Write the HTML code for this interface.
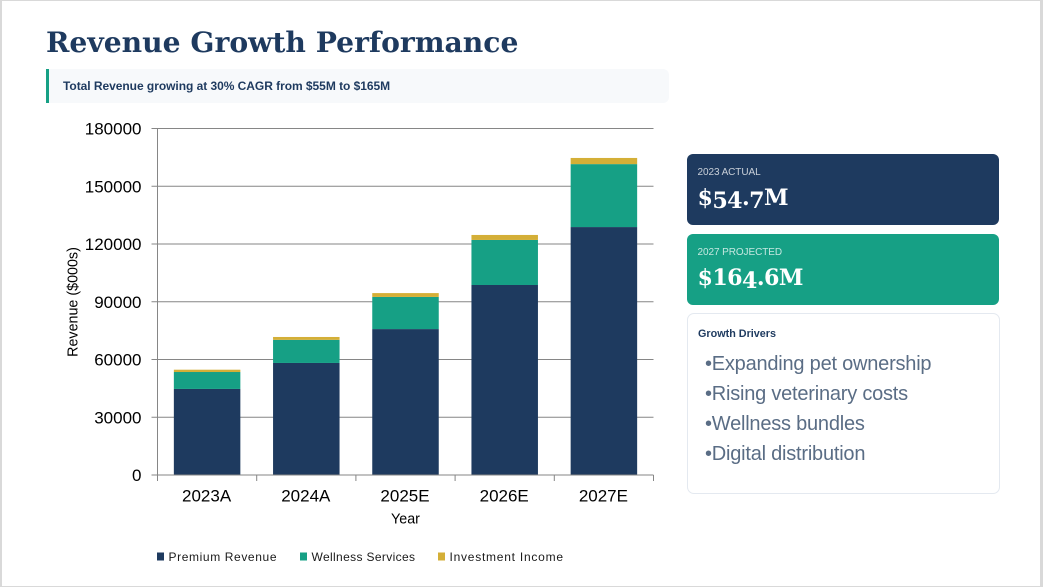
<!DOCTYPE html>
<html lang="en">
<head>
<meta charset="utf-8">
<title>Revenue Growth Performance</title>
<style>
html,body{margin:0;padding:0;background:#fff;}
body{width:1043px;height:587px;overflow:hidden;position:relative;font-family:"Liberation Sans",sans-serif;}
#frame{position:absolute;left:0;top:0;width:1043px;height:587px;box-sizing:border-box;border-style:solid;border-color:#d9d9d9;border-width:1px 3px 1px 2px;}
#title{position:absolute;left:46px;top:23px;font:bold 28.2px "DejaVu Serif",serif;color:#1e3a5f;white-space:nowrap;line-height:40px;}
#banner{position:absolute;left:46px;top:69px;width:623px;height:34px;background:#f7f9fb;border-left:3px solid #16a085;box-sizing:border-box;border-radius:0 6px 6px 0;font:bold 12px/34px "Liberation Sans",sans-serif;color:#1e3a5f;padding-left:14px;letter-spacing:-.04px;}
.kpi{position:absolute;left:687px;width:312px;height:71px;border-radius:6px;color:#fff;}
.kpi .lab{position:absolute;left:10.5px;top:13px;font-size:10px;line-height:12px;opacity:.75;white-space:nowrap;letter-spacing:-.08px;}
.kpi .val{position:absolute;left:10.5px;top:27px;font:bold 22.2px/34px "DejaVu Serif",serif;white-space:nowrap;letter-spacing:-.6px;}
.kpi .val span{position:relative;top:3px;}
#k1{top:154px;background:#1e3a5f;}
#k2{top:234px;background:#16a085;}
#drivers{position:absolute;left:687px;top:313px;width:313px;height:181px;box-sizing:border-box;border:1px solid #e4e9f0;border-radius:7px;background:#fff;}
#drivers h4{position:absolute;left:10px;top:14px;margin:0;font:bold 10.8px/12px "Liberation Sans",sans-serif;color:#1e3a5f;white-space:nowrap;}
#drivers div.li{position:absolute;left:17px;font-size:20px;line-height:24px;color:#5a6d85;white-space:nowrap;letter-spacing:-.22px;}
#chart{position:absolute;left:0;top:0;}
</style>
</head>
<body>
<div id="frame"></div>
<div id="title">Revenue Growth Performance</div>
<div id="banner">Total Revenue growing at 30% CAGR from $55M to $165M</div>

<svg id="chart" width="1043" height="587"></svg>

<div class="kpi" id="k1">
  <div class="lab">2023 ACTUAL</div>
  <div class="val">$<span>54</span>.<span>7</span>M</div>
</div>
<div class="kpi" id="k2">
  <div class="lab">2027 PROJECTED</div>
  <div class="val">$16<span>4</span>.6M</div>
</div>
<div id="drivers">
  <h4>Growth Drivers</h4>
  <div class="li" style="top:38px">•Expanding pet ownership</div>
  <div class="li" style="top:68px">•Rising veterinary costs</div>
  <div class="li" style="top:98px">•Wellness bundles</div>
  <div class="li" style="top:128px">•Digital distribution</div>
</div>

<script>
const categories = ['2023A', '2024A', '2025E', '2026E', '2027E'];
const premiumRevenue = [44700, 58200, 75800, 98700, 128800];
const wellnessServices = [8800, 12000, 16700, 23400, 32700];
const investmentIncome = [1200, 1500, 2000, 2600, 3200];
const yTicks = [0, 30000, 60000, 90000, 120000, 150000, 180000];
const seriesNames = ['Premium Revenue', 'Wellness Services', 'Investment Income'];
const seriesColors = ['#1e3a5f', '#16a085', '#d4af37'];

const svg = document.getElementById('chart');
const NS = 'http://www.w3.org/2000/svg';
const plot = { left: 157.5, right: 653.5, top: 128.5, bottom: 475 };
const yMax = yTicks[yTicks.length - 1];
const bandW = (plot.right - plot.left) / categories.length;
const barW = 66.5;
const yScale = v => plot.bottom - (v / yMax) * (plot.bottom - plot.top);
const xBand = i => plot.left + i * bandW;

function make(tag, attrs, text) {
  const el = document.createElementNS(NS, tag);
  for (const k in attrs) el.setAttribute(k, attrs[k]);
  if (text !== undefined) el.textContent = text;
  svg.appendChild(el);
  return el;
}
const axisColor = '#868686';
const fontStack = '"Liberation Sans",sans-serif';

yTicks.forEach(t => {
  const y = yScale(t);
  if (t !== 0) {
    const grid = make('line', { x1: plot.left, x2: plot.right, y1: y, y2: y, stroke: axisColor, 'stroke-width': 1 });
    
    
  }
  const tick = make('line', { x1: plot.left - 6, x2: plot.left, y1: y, y2: y, stroke: axisColor, 'stroke-width': 1 });
  
  
  const lab = make('text', { x: plot.left - 16, y: y + 6, 'text-anchor': 'end', 'font-size': 17, fill: '#000', 'font-family': fontStack }, String(t));
  
  
});

const seriesValues = [premiumRevenue, wellnessServices, investmentIncome];
categories.forEach((c, i) => {
  let base = 0;
  const x = xBand(i) + (bandW - barW) / 2;
  seriesValues.forEach((vals, s) => {
    const top = base + vals[i];
    const bar = make('rect', { x: x, y: yScale(top), width: barW, height: yScale(base) - yScale(top), fill: seriesColors[s] });
    
    
    base = top;
  });
  const lab = make('text', { x: xBand(i) + bandW / 2 - 0.5, y: 501.5, 'text-anchor': 'middle', 'font-size': 17, fill: '#000', 'font-family': fontStack }, c);
  
  
});

const yAxis = make('line', { x1: plot.left, x2: plot.left, y1: plot.top, y2: plot.bottom, stroke: axisColor, 'stroke-width': 1 });


const xAxis = make('line', { x1: plot.left, x2: plot.right, y1: plot.bottom, y2: plot.bottom, stroke: axisColor, 'stroke-width': 1 });


for (let i = 0; i <= categories.length; i++) {
  const xt = make('line', { x1: xBand(i), x2: xBand(i), y1: plot.bottom, y2: plot.bottom + 6, stroke: axisColor, 'stroke-width': 1 });
  
  
}

const yTitle = make('text', { transform: 'translate(77.5,302) rotate(-90)', 'text-anchor': 'middle', 'font-size': 14.3, fill: '#000', 'font-family': fontStack }, 'Revenue ($000s)');


const xTitle = make('text', { x: 405.5, y: 523.5, 'text-anchor': 'middle', 'font-size': 14.3, fill: '#000', 'font-family': fontStack }, 'Year');



const legendX = [157, 300, 438];
const legendLen = [108, 103.5, 113.5];
seriesNames.forEach((n, i) => {
  const sw = make('rect', { x: legendX[i], y: 552.5, width: 7, height: 8, fill: seriesColors[i] });
  
  
  const t = make('text', { x: legendX[i] + 11.5, y: 561, 'font-size': 12, textLength: legendLen[i], lengthAdjust: 'spacing', fill: '#1a1a1a', 'font-family': fontStack }, n);
  
  
});
</script>
</body>
</html>
